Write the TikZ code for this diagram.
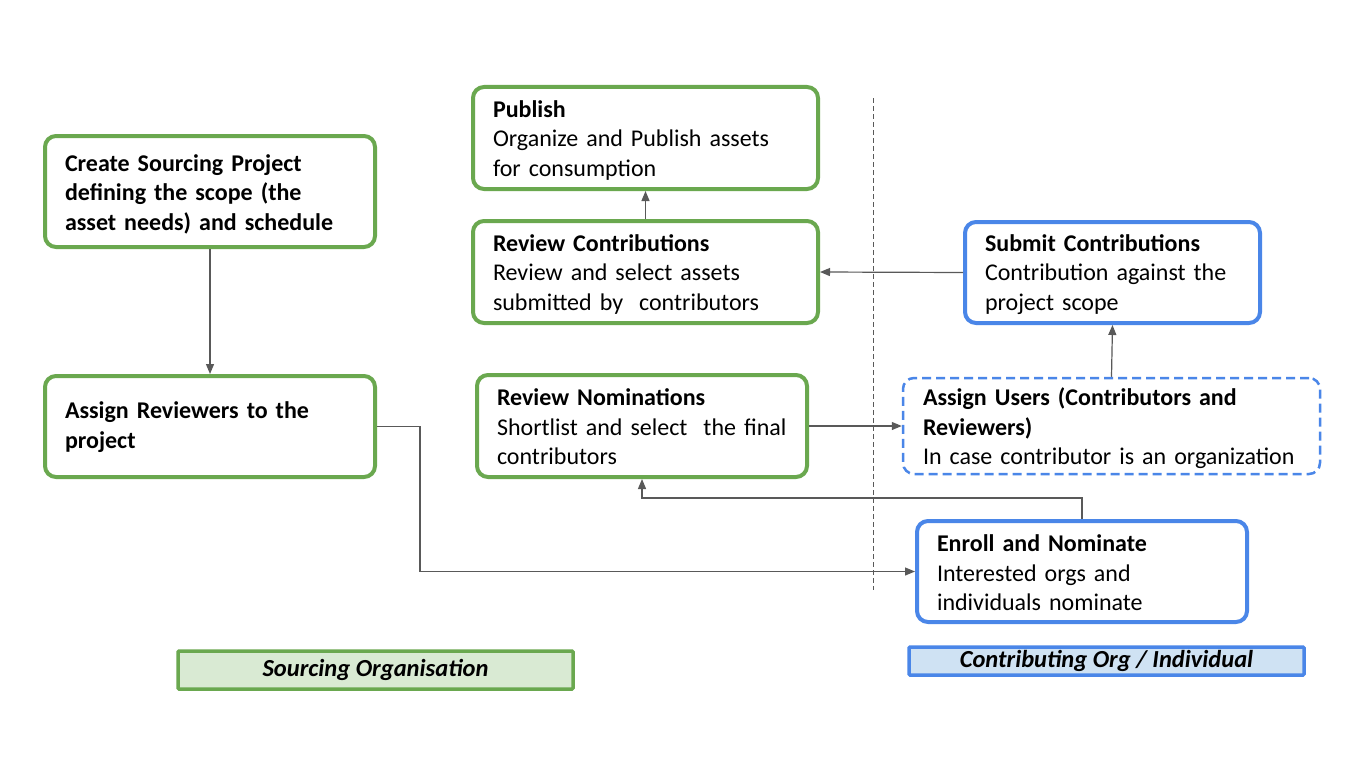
\documentclass[tikz,border=0pt]{standalone}
\usepackage{fontspec}
\setmainfont{Carlito}
\usetikzlibrary{arrows.meta}
\definecolor{gr}{HTML}{6AA84F}
\definecolor{bl}{HTML}{4A86E8}
\definecolor{grfill}{HTML}{D9EAD3}
\definecolor{blfill}{HTML}{CFE2F3}
\definecolor{ln}{HTML}{595959}
\begin{document}
\begin{tikzpicture}[x=1pt,y=-1pt,
  box/.style={rounded corners=11pt, line width=4pt, fill=white, inner sep=0pt},
  gbox/.style={box, draw=gr},
  bbox/.style={box, draw=bl},
  dbox/.style={box, draw=bl, line width=2.5pt, dash pattern=on 9pt off 5pt},
  txt/.style={inner sep=0pt, align=left, font=\fontsize{24}{29.5}\selectfont},
  lab/.style={line width=3.5pt, rounded corners=1pt, font=\fontsize{24.5}{28}\selectfont\bfseries\itshape, inner sep=0pt},
  arr/.style={draw=ln, line width=1.2pt, -{Triangle[length=10pt,width=8pt]}}
]
\useasboundingbox (0,0) rectangle (1366,768);
\fill[white] (0,0) rectangle (1366,768);

\draw[ln, line width=1pt, dash pattern=on 5pt off 3pt] (873,98) -- (873,590);

\node[gbox, minimum width=330pt, minimum height=111pt] (create) at (210,191.5) {};
\node[txt, text width=290pt] (create-t) at ([yshift=-2.5pt]create.center)
  {\textbf{Create Sourcing Project}\\\textbf{defining the scope (the}\\\textbf{asset needs) and schedule}};
\node[gbox, minimum width=330pt, minimum height=101pt] (assrev) at (210,426.5) {};
\node[txt, text width=290pt] (assrev-t) at ([yshift=-0.5pt]assrev.center)
  {\textbf{Assign Reviewers to the}\\\textbf{project}};
\node[gbox, minimum width=345pt, minimum height=102pt] (publish) at (645.5,138) {};
\node[txt, text width=305pt] (publish-t) at ([yshift=-2.5pt]publish.center)
  {\textbf{Publish}\\Organize and Publish assets\\for consumption};
\node[gbox, minimum width=345pt, minimum height=102pt] (revcon) at (645.5,272) {};
\node[txt, text width=305pt] (revcon-t) at ([yshift=-2pt]revcon.center)
  {\textbf{Review Contributions}\\Review and select assets\\submitted by\ \ contributors};
\node[gbox, minimum width=330pt, minimum height=102pt] (revnom) at (642,426) {};
\node[txt, text width=290pt] (revnom-t) at ([yshift=-1pt]revnom.center)
  {\textbf{Review Nominations}\\Shortlist and select\ \ the final\\contributors};
\node[bbox, minimum width=295pt, minimum height=101pt] (submit) at (1112.5,272.5) {};
\node[txt, text width=255pt] (submit-t) at ([yshift=-2pt]submit.center)
  {\textbf{Submit Contributions}\\Contribution against the\\project scope};
\node[dbox, minimum width=417pt, minimum height=96pt] (assusr) at (1111.5,426) {};
\node[txt, text width=377pt] (assusr-t) at ([yshift=-2.5pt]assusr.center)
  {\textbf{Assign Users (Contributors and}\\\textbf{Reviewers)}\\In case contributor is an organization};
\node[bbox, minimum width=330pt, minimum height=101pt] (enroll) at (1082,571.5) {};
\node[txt, text width=290pt] (enroll-t) at ([yshift=-1.5pt]enroll.center)
  {\textbf{Enroll and Nominate}\\Interested orgs and\\individuals nominate};

\node[lab, draw=gr, fill=grfill, minimum width=395pt, minimum height=38pt] (srclab) at (375.5,670) {Sourcing Organisation};
\node[lab, draw=bl, fill=blfill, minimum width=395pt, minimum height=28pt] (conlab) at (1106.5,661) {Contributing Org / Individual};

\draw[arr] (create.south) -- (assrev.north);
\draw[arr] (revcon.north) -- (publish.south);
\draw[arr] (submit.west) -- (revcon.east);
\coordinate (c1) at (420,426.5);
\coordinate (c2) at (420,571.5);
\draw[arr] (assrev.east) -- (c1) -- (c2) -- (enroll.west);
\draw[arr] (revnom.east) -- (assusr.west);
\draw[arr] (assusr.north) -- (submit.south);
\coordinate (c3) at (1082,498);
\coordinate (c4) at (642,498);
\draw[arr] (enroll.north) -- (c3) -- (c4) -- (revnom.south);
\end{tikzpicture}
\end{document}
